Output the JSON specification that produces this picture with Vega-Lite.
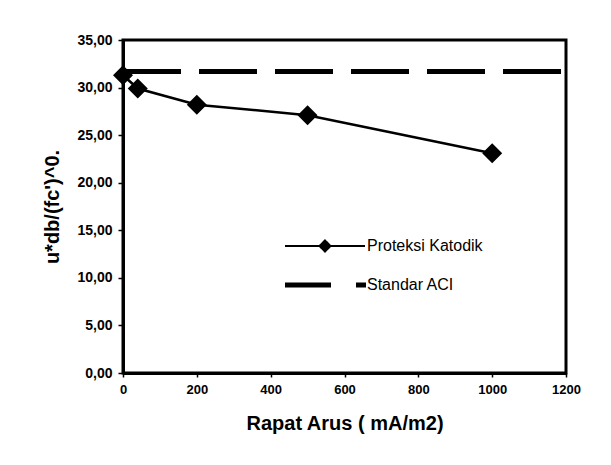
{
  "$schema": "https://vega.github.io/schema/vega-lite/v6.json",
  "width": 443,
  "height": 333,
  "autosize": "none",
  "padding": {"left": 123, "top": 40, "right": 45, "bottom": 92},
  "background": "white",
  "config": {
    "font": "Liberation Sans",
    "view": {"stroke": "black", "strokeWidth": 3},
    "axis": {
      "grid": false,
      "domainColor": "black",
      "domainWidth": 3,
      "tickColor": "black",
      "tickWidth": 1.5,
      "labelColor": "black",
      "titleColor": "black",
      "labelFont": "Liberation Sans",
      "titleFont": "Liberation Sans",
      "labelFontWeight": "bold",
      "labelFlush": false,
      "labelOverlap": false
    }
  },
  "data": {
    "values": [
      {"x": 0, "y": 31.3, "series": "Proteksi Katodik"},
      {"x": 40, "y": 29.9, "series": "Proteksi Katodik"},
      {"x": 200, "y": 28.2, "series": "Proteksi Katodik"},
      {"x": 500, "y": 27.1, "series": "Proteksi Katodik"},
      {"x": 1000, "y": 23.1, "series": "Proteksi Katodik"},
      {"x": 0, "y": 31.7, "series": "Standar ACI"},
      {"x": 1200, "y": 31.7, "series": "Standar ACI"}
    ]
  },
  "encoding": {
    "x": {
      "field": "x",
      "type": "quantitative",
      "scale": {"domain": [0, 1200]},
      "axis": {
        "values": [0, 200, 400, 600, 800, 1000, 1200],
        "format": "d",
        "title": "Rapat Arus ( mA/m2)",
        "titleFontSize": 20,
        "titleFontWeight": "bold",
        "labelFontSize": 13,
        "tickSize": 4,
        "labelPadding": 6,
        "titlePadding": 17
      }
    },
    "y": {
      "field": "y",
      "type": "quantitative",
      "scale": {"domain": [0, 35]},
      "axis": {
        "values": [0, 5, 10, 15, 20, 25, 30, 35],
        "labelExpr": "replace(format(datum.value, '.2f'), '.', ',')",
        "title": "u*db/(fc')^0.",
        "titleFontSize": 20,
        "titleFontWeight": "bold",
        "labelFontSize": 14,
        "tickSize": 5,
        "labelPadding": 6,
        "titlePadding": 14
      }
    }
  },
  "layer": [
    {
      "transform": [{"filter": "datum.series === 'Standar ACI'"}],
      "mark": {"type": "line", "strokeDash": [58, 18], "strokeWidth": 5, "clip": false},
      "encoding": {
        "color": {
          "field": "series",
          "type": "nominal",
          "scale": {"domain": ["Proteksi Katodik", "Standar ACI"], "range": ["black", "black"]},
          "legend": {
            "title": null,
            "orient": "none",
            "legendX": 194,
            "legendY": 198,
            "padding": 0,
            "symbolSize": 400,
            "symbolType": "stroke",
            "labelFontSize": 16,
            "labelFont": "Liberation Sans",
            "labelColor": "black",
            "labelOffset": 34,
            "rowPadding": 19,
            "encode": {
              "symbols": {
                "update": {
                  "shape": {"signal": "datum.value === 'Standar ACI' ? 'M-4,0H0.6M3.1,0H4.1' : 'M-4,0H4M-0.55,0L0,-0.55L0.55,0L0,0.55Z'"},
                  "strokeWidth": {"signal": "datum.value === 'Standar ACI' ? 5 : 2"},
                  "fill": {"value": "black"},
                  "stroke": {"value": "black"},
                  "strokeDash": {"value": [1, 0]},
                  "opacity": {"value": 1}
                }
              }
            }
          }
        }
      }
    },
    {
      "transform": [{"filter": "datum.series === 'Proteksi Katodik'"}],
      "mark": {"type": "line", "strokeWidth": 2.5},
      "encoding": {
        "color": {"field": "series", "type": "nominal"}
      }
    },
    {
      "transform": [{"filter": "datum.series === 'Proteksi Katodik'"}],
      "mark": {"type": "point", "shape": "diamond", "filled": true, "size": 400, "color": "black", "opacity": 1},
      "encoding": {}
    }
  ]
}
